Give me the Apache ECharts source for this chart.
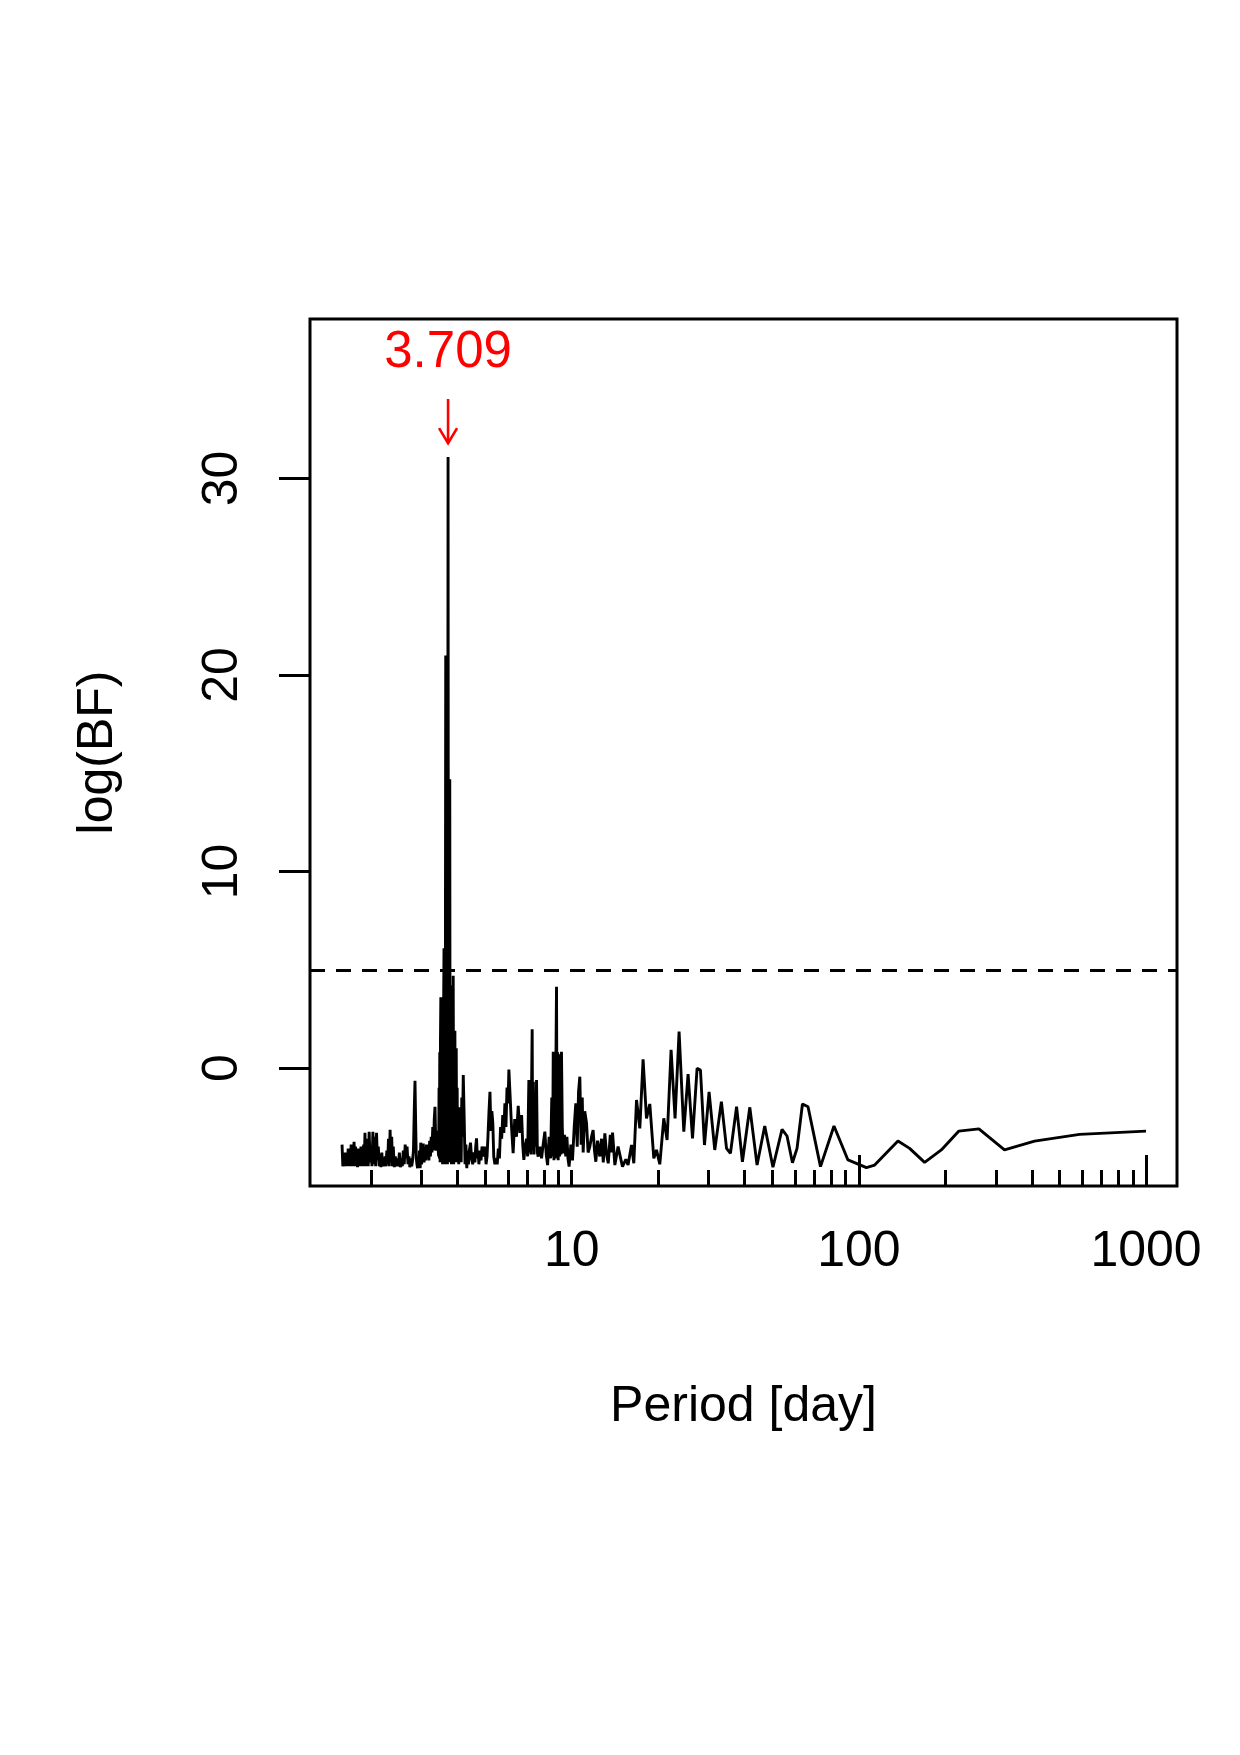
<!DOCTYPE html>
<html>
<head>
<meta charset="utf-8">
<title>log(BF) vs period</title>
<script src="https://cdn.jsdelivr.net/npm/echarts@6.0.0/dist/echarts.min.js"></script>
<style>
html, body { margin: 0; padding: 0; background: #fff; }
#chart { width: 1240px; height: 1755px; }
</style>
</head>
<body>
<div id="chart"></div>
<script>
// periodogram (period in days, log Bayes factor)
const periods = [
	1.585, 1.595, 1.605, 1.615, 1.625, 1.635, 1.645, 1.655, 1.665, 1.675,
	1.685, 1.695, 1.705, 1.715, 1.725, 1.735, 1.745, 1.755, 1.765, 1.775,
	1.785, 1.795, 1.805, 1.815, 1.825, 1.835, 1.845, 1.855, 1.865, 1.875,
	1.885, 1.895, 1.905, 1.915, 1.925, 1.935, 1.945, 1.955, 1.97, 1.985,
	2.0, 2.015, 2.03, 2.045, 2.06, 2.075, 2.09, 2.105, 2.12, 2.135,
	2.15, 2.165, 2.18, 2.195, 2.21, 2.225, 2.24, 2.255, 2.27, 2.285,
	2.3, 2.315, 2.33, 2.345, 2.36, 2.375, 2.39, 2.41, 2.43, 2.45,
	2.47, 2.49, 2.51, 2.53, 2.55, 2.57, 2.59, 2.61, 2.63, 2.65,
	2.67, 2.69, 2.71, 2.73, 2.75, 2.77, 2.79, 2.81, 2.83, 2.845,
	2.86, 2.875, 2.89, 2.905, 2.92, 2.935, 2.95, 2.965, 2.98, 3.0,
	3.02, 3.04, 3.06, 3.08, 3.10, 3.12, 3.14, 3.16, 3.18, 3.20,
	3.22, 3.24, 3.26, 3.28, 3.30, 3.32, 3.34, 3.36, 3.38, 3.40,
	3.42, 3.44, 3.45, 3.46, 3.47, 3.48, 3.49, 3.50, 3.51, 3.52,
	3.53, 3.54, 3.55, 3.56, 3.57, 3.58, 3.59, 3.60, 3.61, 3.62,
	3.63, 3.64, 3.65, 3.66, 3.67, 3.68, 3.69, 3.70, 3.709, 3.72,
	3.73, 3.74, 3.75, 3.76, 3.77, 3.78, 3.79, 3.80, 3.81, 3.82,
	3.83, 3.84, 3.85, 3.865, 3.88, 3.89, 3.90, 3.91, 3.918, 3.93,
	3.94, 3.95, 3.96, 3.97, 3.98, 3.99, 4.00, 4.02, 4.04, 4.06,
	4.08, 4.10, 4.12, 4.14, 4.16, 4.19, 4.22, 4.25, 4.28, 4.31,
	4.34, 4.37, 4.40, 4.44, 4.48, 4.52, 4.56, 4.60, 4.63, 4.66,
	4.69, 4.72, 4.75, 4.79, 4.83, 4.87, 4.91, 4.95, 4.99, 5.03,
	5.07, 5.11, 5.15, 5.19, 5.23, 5.27, 5.31, 5.35, 5.40, 5.45,
	5.50, 5.55, 5.60, 5.65, 5.70, 5.75, 5.80, 5.85, 5.90, 5.95,
	6.00, 6.04, 6.09, 6.17, 6.25, 6.33, 6.42, 6.51, 6.60, 6.69,
	6.75, 6.81, 6.88, 6.96, 7.02, 7.09, 7.13, 7.17, 7.21, 7.25,
	7.28, 7.31, 7.35, 7.39, 7.44, 7.49, 7.54, 7.59, 7.64, 7.74,
	7.85, 7.95, 8.06, 8.15, 8.24, 8.34, 8.44, 8.52, 8.58, 8.62,
	8.67, 8.72, 8.76, 8.81, 8.85, 8.89, 8.93, 8.97, 9.02, 9.07,
	9.12, 9.17, 9.21, 9.27, 9.33, 9.43, 9.53, 9.62, 9.70, 9.79,
	9.93, 10.06, 10.20, 10.33, 10.45, 10.56, 10.67, 10.78, 10.88, 10.96,
	11.10, 11.26, 11.40, 11.56, 11.72, 11.87, 12.00, 12.13, 12.30, 12.52,
	12.70, 12.88, 13.04, 13.22, 13.40, 13.62, 13.75, 13.87, 14.13, 14.50,
	15.02, 15.43, 15.71, 16.15, 16.45, 16.81, 17.26, 17.72, 18.21, 18.70,
	19.31, 19.73, 20.26, 20.92, 21.48, 22.18, 22.90, 23.65, 24.56, 25.42,
	26.34, 27.32, 28.07, 28.99, 30.08, 31.48, 33.2, 34.6, 35.7, 37.5,
	39.3, 41.7, 44.2, 47.0, 50.2, 54.0, 56.2, 58.7, 60.9, 63.6,
	66.5, 73.5, 81.9, 91.6, 98.0, 106.2, 113.5, 136.8, 150.2,
	169.4, 193.7, 223, 261.8, 321.5, 409, 587, 1000
]
const logBF = [
	-3.9, -5.0, -4.6, -5.0, -4.3, -5.0, -4.5, -4.9, -4.1, -5.0,
	-4.4, -5.0, -3.9, -4.8, -4.2, -5.0, -3.75, -4.9, -4.0, -5.0,
	-4.3, -5.05, -4.1, -4.9, -4.5, -5.0, -4.0, -4.7, -4.4, -5.0,
	-3.9, -4.8, -3.3, -5.0, -4.2, -4.9, -3.6, -5.0, -3.25, -4.8,
	-4.3, -5.0, -3.25, -4.9, -3.5, -5.0, -3.3, -4.7, -4.0, -5.0,
	-4.4, -5.05, -4.3, -5.0, -4.6, -5.0, -4.5, -5.0, -4.2, -4.9,
	-3.6, -5.0, -3.15, -4.8, -3.5, -5.0, -4.0, -5.05, -4.5, -5.0,
	-4.6, -5.0, -4.3, -5.05, -4.6, -5.0, -4.2, -4.9, -3.9, -4.6,
	-4.0, -4.9, -4.5, -5.05, -4.6, -5.0, -4.7, -4.2, -2.0, -0.65,
	-2.8, -4.6, -4.9, -5.1, -4.5, -5.0, -4.2, -5.1, -3.8, -4.9,
	-4.2, -3.85, -4.8, -4.0, -4.7, -3.9, -4.6, -4.1, -4.7, -3.7,
	-4.5, -3.5, -4.3, -3.0, -4.2, -2.6, -1.97, -3.8, -4.2, -3.2,
	-4.0, -4.5, -1.0, -4.6, 0.8, -4.8, 1.5, 3.6, -4.7, 0.2,
	-4.8, 1.8, -4.9, 2.6, -4.7, 3.2, 6.1, -4.8, 3.0, -4.9,
	4.5, 21.0, -4.8, 6.0, -4.6, 5.5, -4.9, 9.0, 31.1, -4.7,
	6.5, -4.8, 5.0, 14.7, -4.8, 4.2, -4.5, 3.0, -4.9, 2.2,
	-4.7, 3.5, -4.8, 4.7, -4.9, 0.8, -4.6, 1.2, 1.9, -4.8,
	-0.5, -4.7, 1.0, -3.0, -4.8, -1.0, -4.5, -2.6, -4.9, -2.0,
	-4.4, -3.0, -4.8, -1.5, -3.5, -0.36, -2.5, -4.9, -3.9, -5.1,
	-4.2, -4.9, -4.2, -3.8, -4.6, -4.9, -4.3, -4.8, -4.0, -3.58,
	-4.6, -4.2, -4.9, -4.2, -4.7, -4.0, -3.9, -4.5, -4.0, -4.9,
	-4.5, -3.4, -2.2, -1.21, -3.2, -2.2, -2.8, -4.5, -4.9, -4.6,
	-4.9, -4.1, -4.6, -3.0, -3.6, -2.4, -3.3, -1.8, -3.0, -1.0,
	-1.8, -0.08, -1.2, -3.0, -4.34, -2.6, -3.5, -1.93, -3.3, -2.39,
	-3.9, -4.68, -4.0, -3.6, -4.5, -0.61, -4.3, -0.9, -4.4, -0.6,
	1.97, -4.2, -0.7, -4.4, -1.5, -4.0, -0.61, -4.3, -4.51, -4.0,
	-4.6, -3.9, -3.24, -4.4, -4.94, -3.5, -4.6, -1.5, -4.5, 0.83,
	-4.7, 0.6, -4.6, 0.5, 4.14, -4.6, 0.8, -4.7, 0.7, -4.5,
	0.2, -4.4, 0.83, -3.0, -4.34, -3.4, -4.5, -3.5, -4.6, -5.02,
	-3.9, -4.7, -3.0, -1.80, -4.0, -1.2, -0.44, -3.9, -1.5, -4.3,
	-2.2, -2.81, -4.3, -4.00, -3.5, -3.16, -4.2, -4.77, -3.7, -4.5,
	-3.6, -4.8, -3.32, -4.4, -4.85, -3.4, -4.3, -3.29, -4.94, -4.00,
	-5.02, -4.65, -4.94, -3.92, -4.85, -1.63, -3.07, 0.44, -2.56, -1.83,
	-4.60, -4.17, -4.90, -2.56, -3.66, 0.92, -2.56, 1.85, -3.24, -0.31,
	-3.58, -0.02, -0.10, -3.92, -1.21, -4.17, -1.71, -4.09, -4.34, -1.97,
	-4.77, -2.00, -4.94, -2.95, -5.05, -3.12, -3.46, -4.82, -4.09, -1.83,
	-1.97, -5.02, -2.95, -4.68, -4.85, -5.07, -4.94, -3.72, -4.09,
	-4.80, -4.17, -3.21, -3.10, -4.17, -3.72, -3.38, -3.21
]

// axis ticks / labels
const xLabelTicks = [10, 100, 1000]
const xShortTicks = [2, 3, 4, 5, 6, 7, 8, 9, 10, 20, 30, 40, 50, 60, 70, 80, 90, 200, 300, 400, 500, 600, 700, 800, 900]
const xLongTicks = [100, 1000]
const yTicks = [0, 10, 20, 30]
const threshold = 5 // dashed line

// annotation of the highest peak
const peakPeriod = 3.709
const peakText = '3.709'
const peakTextY = 36.4
const arrowTopY = 34.05
const arrowTipY = 31.8

const FONT = '"Liberation Sans", Arial, Helvetica, sans-serif'

function _chartPeriodogram(id) {
	var dom = document.getElementById(id)
	var myChart = echarts.init(dom, null, { renderer: 'canvas' })
	var lineData = periods.map(function(p, i) {
		return [p, logBF[i]]
	})
	var tickStyle = { color: '#000', width: 3 }
	var labelStyle = { color: '#000', fontSize: 50, fontFamily: FONT }
	var xMin = 1.2258
	var xMax = 1282
	var option = {
		animation: false,
		backgroundColor: '#fff',
		grid: {
			left: 310,
			right: 63,
			top: 319,
			bottom: 569,
			show: true,
			borderColor: '#000',
			borderWidth: 3,
			backgroundColor: 'transparent',
			outerBoundsMode: 'none'
		},
		xAxis: [
			{
				type: 'log',
				logBase: 10,
				position: 'bottom',
				min: xMin,
				max: xMax,
				name: 'Period [day]',
				nameLocation: 'middle',
				nameGap: 196,
				nameTextStyle: labelStyle,
				axisLine: { show: false, onZero: false },
				axisTick: {
					show: true,
					inside: true,
					length: 16,
					customValues: xShortTicks,
					lineStyle: tickStyle
				},
				axisLabel: Object.assign({
					show: true,
					margin: 41,
					customValues: xLabelTicks,
					formatter: function(v) {
						return String(Math.round(v))
					}
				}, labelStyle),
				splitLine: { show: false }
			},
			{
				type: 'log',
				logBase: 10,
				position: 'bottom',
				min: xMin,
				max: xMax,
				axisLine: { show: false, onZero: false },
				axisTick: {
					show: true,
					inside: true,
					length: 31,
					customValues: xLongTicks,
					lineStyle: tickStyle
				},
				axisLabel: { show: false },
				splitLine: { show: false }
			}
		],
		yAxis: {
			type: 'value',
			min: -6.005,
			max: 38.12,
			name: 'log(BF)',
			nameLocation: 'middle',
			nameRotate: 90,
			nameGap: 187,
			nameTextStyle: labelStyle,
			axisLine: { show: false, onZero: false },
			axisTick: {
				show: true,
				length: 31,
				customValues: yTicks,
				lineStyle: tickStyle
			},
			axisLabel: Object.assign({
				show: true,
				rotate: 90,
				margin: 62,
				customValues: yTicks
			}, labelStyle),
			splitLine: { show: false }
		},
		series: [
			{
				type: 'line',
				xAxisIndex: 0,
				data: lineData,
				showSymbol: false,
				symbol: 'none',
				lineStyle: { color: '#000', width: 2.9 },
				itemStyle: { color: '#000' },
				markLine: {
					silent: true,
					symbol: ['none', 'none'],
					label: { show: false },
					lineStyle: { color: '#000', width: 2.8, type: [15, 11] },
					data: [{ yAxis: threshold }]
				},
				markPoint: {
					silent: true,
					symbol: 'circle',
					symbolSize: 1,
					itemStyle: { color: 'rgba(0,0,0,0)' },
					label: {
						show: true,
						position: 'inside',
						color: '#ff0000',
						fontSize: 51,
						fontFamily: FONT,
						formatter: function(p) {
							return p.name
						}
					},
					data: [{ name: peakText, coord: [peakPeriod, peakTextY] }]
				}
			},
			{
				// red arrow (R arrows() style, open head) pointing at the peak
				type: 'custom',
				xAxisIndex: 0,
				silent: true,
				clip: false,
				data: [[peakPeriod, arrowTopY, arrowTipY]],
				encode: { x: 0, y: [1, 2] },
				renderItem: function(params, api) {
					var top = api.coord([api.value(0), api.value(1)])
					var tip = api.coord([api.value(0), api.value(2)])
					var arrowStyle = { stroke: '#ff0000', lineWidth: 2.6, fill: null }
					return {
						type: 'group',
						children: [
							{
								type: 'line',
								shape: { x1: top[0], y1: top[1], x2: tip[0], y2: tip[1] },
								style: arrowStyle
							},
							{
								type: 'polyline',
								shape: {
									points: [
										[tip[0] - 9, tip[1] - 15],
										[tip[0], tip[1]],
										[tip[0] + 9, tip[1] - 15]
									]
								},
								style: arrowStyle
							}
						]
					}
				}
			}
		]
	}
	myChart.setOption(option)
	return myChart
}

_chartPeriodogram('chart')
</script>
</body>
</html>
